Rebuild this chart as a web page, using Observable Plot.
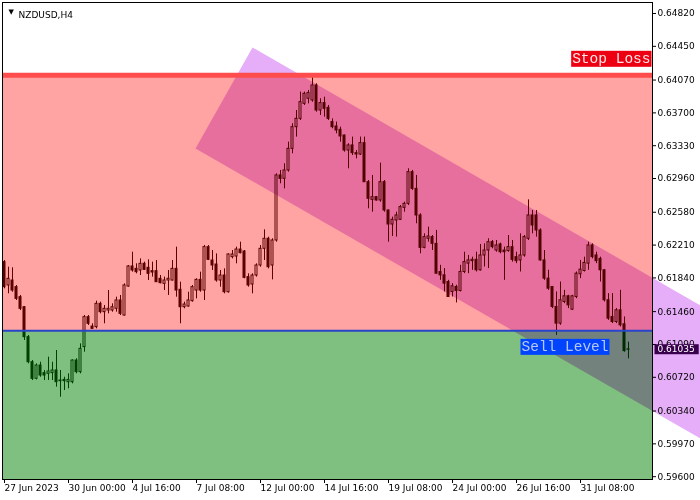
<!DOCTYPE html>
<html><head><meta charset="utf-8">
<script src="https://cdn.jsdelivr.net/npm/d3@7"></script>
<script src="https://cdn.jsdelivr.net/npm/@observablehq/plot@0.6"></script>
<style>
html,body{margin:0;padding:0;background:#fff}
#chart{width:700px;height:500px;overflow:hidden}
</style>
</head><body><div id="chart"></div>
<script>
// ---- Data (NZDUSD, H4 candles) ----
const opens = [0.62018,0.61755,0.61811,0.61736,0.61623,0.61510,0.61172,0.60890,0.60703,0.60853,
0.60767,0.60759,0.60767,0.60797,0.60684,0.60691,0.60665,0.60665,0.60909,0.60778,
0.61060,0.61398,0.61292,0.61285,0.61548,0.61454,0.61473,0.61473,0.61492,0.61586,
0.61416,0.61743,0.61969,0.61942,0.61924,0.61999,0.61954,0.61916,0.61916,0.61830,
0.61773,0.61811,0.61811,0.61942,0.61706,0.61510,0.61518,0.61578,0.61698,0.61818,
0.61698,0.62187,0.62036,0.61991,0.61811,0.61867,0.61679,0.62074,0.62081,0.62160,
0.62138,0.61849,0.61766,0.61867,0.61980,0.62168,0.62281,0.61980,0.62262,0.62995,
0.62957,0.63051,0.63295,0.63539,0.63633,0.63802,0.63859,0.63840,0.64009,0.63727,
0.63810,0.63757,0.63596,0.63547,0.63509,0.63445,0.63276,0.63333,0.63246,0.63231,
0.63359,0.62919,0.62720,0.62750,0.62713,0.62919,0.62600,0.62442,0.62487,0.62495,
0.62630,0.62675,0.63032,0.62844,0.62544,0.62179,0.62281,0.62300,0.62224,0.61907,
0.61869,0.61794,0.61682,0.61738,0.61693,0.61907,0.62001,0.62029,0.62044,0.61926,
0.62093,0.62149,0.62243,0.62149,0.62217,0.62149,0.62142,0.62187,0.62074,0.62037,
0.62093,0.62281,0.62544,0.62544,0.62375,0.62037,0.61832,0.61738,0.61513,0.61325,
0.61569,0.61633,0.61482,0.61625,0.61881,0.61918,0.62001,0.62206,0.62093,0.62055,
0.61926,0.61588,0.61400,0.61343,0.61475,0.61317,0.61030];
const highs = [0.62036,0.61961,0.61954,0.61755,0.61642,0.61518,0.61191,0.60909,0.60872,0.60890,
0.60797,0.60947,0.60890,0.61022,0.60797,0.60721,0.60759,0.60917,0.60928,0.61097,
0.61416,0.61416,0.61323,0.61578,0.61567,0.61529,0.61698,0.61548,0.61623,0.61642,
0.61773,0.61980,0.62130,0.61999,0.62055,0.62018,0.62044,0.62018,0.62036,0.61867,
0.61849,0.61924,0.62036,0.62187,0.61792,0.61567,0.61679,0.61755,0.61830,0.61905,
0.62205,0.62205,0.62149,0.62111,0.61924,0.61942,0.62111,0.62149,0.62187,0.62243,
0.62149,0.61886,0.61886,0.61999,0.62205,0.62382,0.62299,0.62281,0.63013,0.63051,
0.63126,0.63370,0.63577,0.63727,0.63934,0.63934,0.63953,0.64103,0.64028,0.63859,
0.63877,0.63784,0.63633,0.63596,0.63539,0.63450,0.63352,0.63427,0.63276,0.63427,
0.63427,0.62938,0.62995,0.62758,0.63134,0.62938,0.62605,0.62525,0.62581,0.62656,
0.62694,0.63070,0.63051,0.62995,0.62563,0.62337,0.62412,0.62318,0.62375,0.61982,
0.61945,0.61813,0.61776,0.61757,0.61982,0.62130,0.62093,0.62074,0.62130,0.62217,
0.62224,0.62281,0.62262,0.62262,0.62232,0.62187,0.62318,0.62262,0.62130,0.62337,
0.62318,0.62720,0.62600,0.62600,0.62393,0.62149,0.61926,0.61740,0.61682,0.61794,
0.61700,0.61644,0.61644,0.61907,0.62037,0.62074,0.62243,0.62224,0.62130,0.62074,
0.61933,0.61663,0.61663,0.61494,0.61700,0.61400,0.61116];
const lows = [0.61717,0.61661,0.61679,0.61586,0.61473,0.61135,0.60872,0.60684,0.60691,0.60721,
0.60684,0.60684,0.60684,0.60609,0.60496,0.60571,0.60590,0.60646,0.60759,0.60759,
0.61003,0.61304,0.61266,0.61266,0.61435,0.61323,0.61435,0.61454,0.61454,0.61416,
0.61410,0.61736,0.61905,0.61886,0.61867,0.61924,0.61811,0.61849,0.61792,0.61773,
0.61698,0.61642,0.61805,0.61623,0.61323,0.61492,0.61510,0.61567,0.61604,0.61679,
0.61586,0.62036,0.61924,0.61792,0.61736,0.61661,0.61668,0.62055,0.61999,0.62111,
0.61830,0.61736,0.61661,0.61849,0.61961,0.62036,0.61942,0.61818,0.62243,0.62901,
0.62844,0.63032,0.63239,0.63427,0.63614,0.63784,0.63802,0.63821,0.63708,0.63671,
0.63652,0.63614,0.63521,0.63464,0.63370,0.63258,0.63070,0.63220,0.63182,0.63220,
0.62915,0.62619,0.62581,0.62705,0.62694,0.62581,0.62243,0.62307,0.62300,0.62487,
0.62581,0.62656,0.62826,0.62450,0.62112,0.62168,0.62243,0.62149,0.61881,0.61813,
0.61682,0.61620,0.61625,0.61558,0.61682,0.61888,0.61888,0.61926,0.61907,0.61918,
0.61963,0.61945,0.62168,0.62130,0.62112,0.61813,0.62130,0.62018,0.62001,0.61907,
0.62074,0.62262,0.62337,0.62300,0.62029,0.61813,0.61700,0.61494,0.61193,0.61306,
0.61550,0.61494,0.61475,0.61606,0.61832,0.61907,0.61926,0.62055,0.62001,0.61794,
0.61569,0.61362,0.61325,0.61325,0.61287,0.61003,0.60928];
const closes = [0.61736,0.61830,0.61698,0.61604,0.61492,0.61172,0.60890,0.60703,0.60853,0.60740,
0.60740,0.60785,0.60797,0.60665,0.60676,0.60676,0.60691,0.60909,0.60778,0.61041,
0.61398,0.61323,0.61266,0.61548,0.61454,0.61492,0.61492,0.61510,0.61586,0.61435,
0.61755,0.61969,0.61924,0.61905,0.61999,0.61931,0.61886,0.61901,0.61792,0.61781,
0.61811,0.61830,0.61942,0.61698,0.61510,0.61540,0.61586,0.61736,0.61818,0.61698,
0.62187,0.62044,0.61980,0.61811,0.61867,0.61679,0.62104,0.62104,0.62160,0.62119,
0.61841,0.61755,0.61867,0.61980,0.62168,0.62281,0.61961,0.62262,0.62995,0.62957,
0.63051,0.63295,0.63539,0.63633,0.63821,0.63915,0.63923,0.64009,0.63727,0.63810,
0.63746,0.63633,0.63539,0.63502,0.63434,0.63276,0.63333,0.63246,0.63231,0.63359,
0.62919,0.62732,0.62750,0.62713,0.62919,0.62600,0.62442,0.62495,0.62544,0.62638,
0.62675,0.63032,0.62844,0.62544,0.62179,0.62300,0.62307,0.62224,0.61888,0.61869,
0.61776,0.61625,0.61746,0.61693,0.61907,0.62018,0.62037,0.62044,0.61926,0.62093,
0.62149,0.62243,0.62187,0.62206,0.62130,0.62130,0.62187,0.62044,0.62029,0.62093,
0.62300,0.62544,0.62431,0.62375,0.62037,0.61832,0.61719,0.61513,0.61325,0.61588,
0.61633,0.61531,0.61633,0.61888,0.61933,0.62009,0.62206,0.62074,0.62029,0.61926,
0.61588,0.61381,0.61343,0.61475,0.61306,0.61015,0.61035];

// x-axis labels (bar index of each label) and y-axis tick values
const dateTicks  = [0, 16, 32, 48, 64, 80, 96, 112, 128, 144];
const dateLabels = ["27 Jun 2023","30 Jun 00:00","4 Jul 16:00","7 Jul 08:00","12 Jul 00:00",
                    "14 Jul 16:00","19 Jul 08:00","24 Jul 00:00","26 Jul 16:00","31 Jul 08:00"];
const priceTicks = [0.64820,0.64450,0.64070,0.63700,0.63330,0.62960,0.62580,0.62210,
                    0.61840,0.61460,0.61090,0.60720,0.60340,0.59970,0.59600];

// levels and channel (time index / price anchors)
const stopLoss  = 0.64125;
const sellLevel = 0.61245;
const chanIdx   = [62, 174, 174, 47.75];
const chanPrice = [0.64437, 0.61529, 0.60030, 0.63299];
const stopLabelAt = 161.75;
const sellLabelAt = 151.25;

const xDomain = [-0.5, 162];
const yDomain = [0.595682, 0.64944];

const idx = d3.range(opens.length);
const bulls = idx.filter(i => closes[i] >= opens[i]);
const bears = idx.filter(i => closes[i] < opens[i]);
const lastPrice = closes[closes.length - 1];
const chanPts = d3.range(chanIdx.length).map(i => ({t: chanIdx[i], p: chanPrice[i]}));

const FONT = "DejaVu Sans, Tahoma, sans-serif";
const MONO = "Liberation Mono, Courier New, monospace";
const CHAN_FILL = "#e6aef8";

const chart = Plot.plot({
  width: 700, height: 500,
  marginLeft: 2, marginRight: 48, marginTop: 2, marginBottom: 21,
  style: {fontFamily: FONT, fontSize: "9px", background: "#fff", color: "#000", overflow: "visible"},
  x: {type: "linear", domain: xDomain, axis: null, label: null},
  y: {type: "linear", domain: yDomain, axis: null, label: null},
  marks: [
    // candles
    Plot.ruleX(idx, {x: i => i, y1: i => lows[i], y2: i => highs[i], stroke: "#000", strokeWidth: 1}),
    Plot.rect(bears, {x1: i => i - 0.25, x2: i => i + 0.25, y1: i => opens[i], y2: i => closes[i], fill: "#000", stroke: "#000"}),
    Plot.rect(bulls, {x1: i => i - 0.25, x2: i => i + 0.25, y1: i => opens[i], y2: i => closes[i], fill: "#fff", stroke: "#000"}),
    // zones
    Plot.rect([0], {x1: () => xDomain[0], x2: () => xDomain[1], y1: () => yDomain[0], y2: () => sellLevel, fill: "#008000", fillOpacity: 0.5}),
    Plot.rect([0], {x1: () => xDomain[0], x2: () => xDomain[1], y1: () => sellLevel, y2: () => stopLoss, fill: "#ff0000", fillOpacity: 0.36}),
    // channel
    Plot.line(chanPts, {x: "t", y: "p", fill: CHAN_FILL, stroke: "none", curve: "linear-closed"}),
    // levels
    Plot.ruleY([stopLoss], {stroke: "#ff4c4c", strokeWidth: 5}),
    Plot.ruleY([sellLevel], {stroke: "#2844c8", strokeWidth: 2}),
    Plot.frame({stroke: "#000"}),
    Plot.axisX(dateTicks, {anchor: "bottom", tickSize: 4, tickPadding: 1, textAnchor: "start", label: null,
      tickFormat: d => dateLabels[dateTicks.indexOf(d)], fontSize: 9, fontFamily: FONT}),
    Plot.axisY(priceTicks, {anchor: "right", tickSize: 3, tickPadding: 2, textAnchor: "start", label: null,
      tickFormat: d3.format(".5f"), fontSize: 9, fontFamily: FONT}),
    // current price label
    Plot.text([lastPrice], {x: () => xDomain[1], y: d => d, text: d => d3.format(".5f")(d), textAnchor: "start",
      dx: 5, fill: "#fff", fontSize: 9, fontFamily: FONT}),
    // level labels
    Plot.text(["Stop Loss"], {x: () => stopLabelAt, y: () => stopLoss, text: d => d, textAnchor: "end",
      dy: -17, dx: -1, fill: "#ffe6e6", fontSize: 14.5, fontFamily: MONO}),
    Plot.text(["Sell Level"], {x: () => sellLabelAt, y: () => sellLevel, text: d => d, textAnchor: "end",
      dy: 15.5, dx: -1, fill: "#b4c8f0", fontSize: 14.5, fontFamily: MONO}),
    // title
    Plot.text(["\u25BC"], {frameAnchor: "top-left", text: d => d, dx: 6, dy: 7, fontSize: 7, fill: "#000"}),
    Plot.text(["NZDUSD,H4"], {frameAnchor: "top-left", text: d => d, dx: 16, dy: 9, textAnchor: "start",
      fontSize: 9, fontFamily: FONT, fill: "#000"})
  ]
});

document.getElementById("chart").appendChild(chart);

// blending for the channel (MT4-like overlay): the fill may sit on the group or on the path
chart.querySelectorAll("g, path").forEach(el => {
  if ((el.getAttribute("fill") || "").toLowerCase() === CHAN_FILL) el.style.mixBlendMode = "multiply";
});

function addBg(content, fill, padL, padR) {
  chart.querySelectorAll("text").forEach(t => {
    if (t.textContent !== content) return;
    const b = t.getBBox();
    const r = document.createElementNS("http://www.w3.org/2000/svg", "rect");
    r.setAttribute("x", b.x - padL);
    r.setAttribute("y", b.y);
    r.setAttribute("width", b.width + padL + padR);
    r.setAttribute("height", b.height);
    r.setAttribute("fill", fill);
    const tr = t.getAttribute("transform");
    if (tr) r.setAttribute("transform", tr);
    t.parentNode.insertBefore(r, t);
  });
}
addBg(d3.format(".5f")(lastPrice), "#38004c", 3, 4);
addBg("Stop Loss", "#ec0012", 1, 1);
addBg("Sell Level", "#0044ff", 1, 1);
</script>
</body></html>
